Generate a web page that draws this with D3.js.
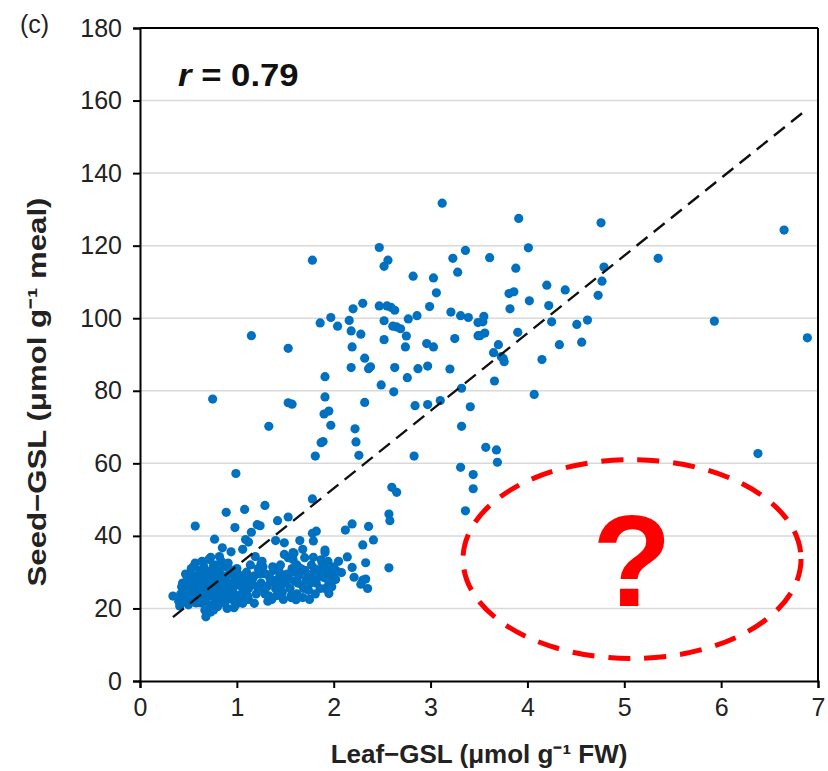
<!DOCTYPE html>
<html>
<head>
<meta charset="utf-8">
<script src="https://cdn.jsdelivr.net/npm/d3@7"></script>
<style>
  body { margin: 0; background: #fff; }
  svg text { font-family: "Liberation Sans", Arial, sans-serif; }
</style>
</head>
<body>
<svg id="chart" width="828" height="771"></svg>
<script>
// leaf vs seed GSL
var leafGSL = [
  3.12,2.47,1.78,2.56,2.52,3.36,3.23,3.28,2.82,3.03,3.06,2.30,2.20,2.47,2.55,2.59,2.63,2.99,3.21,3.31,
  3.39,3.49,1.97,2.16,1.86,2.04,2.52,2.77,2.86,2.61,2.65,2.69,2.18,2.28,2.75,1.15,2.52,3.25,3.49,1.53,
  2.19,2.74,2.96,3.03,2.32,3.91,4.76,6.65,4.01,3.61,5.35,3.88,4.79,4.77,4.20,4.39,3.81,3.86,4.73,4.02,
  4.22,3.82,3.55,3.54,4.25,4.51,4.62,5.93,6.89,3.51,3.56,3.90,3.70,4.33,4.56,3.65,3.73,4.15,3.75,3.76,
  6.38,2.63,2.87,2.97,2.76,3.20,2.49,2.62,3.66,3.32,4.07,2.84,2.97,3.10,3.41,3.32,3.57,3.68,3.69,2.83,
  3.31,3.44,3.44,2.60,2.65,3.36,2.57,2.18,2.36,2.38,1.91,0.75,1.53,1.57,1.91,2.32,1.90,1.95,1.97,1.33,
  2.22,1.87,1.89,2.23,1.81,2.26,0.99,1.78,2.58,2.12,2.19,2.36,2.30,2.41,2.14,2.19,2.33,2.57,1.98,2.03,
  2.08,1.98,1.99,2.21,2.30,2.33,2.28,2.35,0.89,1.08,1.29,0.57,0.98,1.21,1.24,1.42,1.53,1.15,1.78,1.82,
  0.77,1.09,1.12,1.40,1.49,1.65,1.79,0.85,1.06,1.91,0.82,1.68,1.59,1.91,1.79,1.87,1.95,1.91,0.34,0.68,
  0.41,1.18,1.32,1.56,1.61,0.97,1.06,0.76,0.73,0.94,1.49,1.58,1.19,1.25,1.37,
  0.45,0.48,0.50,0.52,0.55,0.55,0.58,0.60,0.60,0.62,0.63,0.65,0.66,0.68,0.70,0.70,0.72,0.73,0.75,0.76,
  0.78,0.80,0.80,0.82,0.83,0.85,0.86,0.88,0.88,0.90,0.92,0.93,0.95,0.96,0.98,1.00,1.00,1.02,1.04,1.05,
  1.07,1.08,1.10,1.12,1.13,0.42,0.44,0.47,0.53,0.57,0.64,0.71,0.50,0.67,0.78,0.90,0.58,0.74,0.86,0.96,
  0.40,0.62,0.69,0.84,0.91,
  0.43,0.46,0.49,0.51,0.54,0.56,0.59,0.61,0.64,0.66,0.67,0.69,0.71,0.74,0.77,0.79,0.81,0.84,0.87,0.89,
  0.92,0.94,0.97,0.99,1.01,1.03,1.06,1.09,1.11,0.63,0.73,0.85,0.99,0.55,0.80,
  1.15,1.18,1.20,1.22,1.25,1.28,1.30,1.33,1.35,1.38,1.40,1.42,1.45,1.47,1.50,1.52,1.55,1.57,1.60,1.62,
  1.64,1.67,1.70,1.72,1.74,1.77,1.79,1.82,1.84,1.86,1.88,1.90,1.93,1.95,2.00,2.05,1.26,1.36,1.48,1.58,
  1.68,1.75,1.81,1.12,1.14,1.44,1.62,1.98,1.70,1.53,
  1.16,1.21,1.24,1.27,1.31,1.34,1.39,1.41,1.46,1.49,1.54,1.56,1.59,1.63,1.66,1.69,1.73,1.76,1.80,1.83,
  1.87,1.91,1.94,1.97,2.02,1.29,1.43
];
var seedGSL = [
  131.7,119.5,116.0,116.0,114.3,118.7,116.5,112.7,111.6,111.1,107.0,104.1,102.6,103.4,103.4,103.0,102.2,103.2,101.7,100.7,
  100.2,98.8,100.2,99.4,98.7,97.8,99.3,99.8,100.7,97.8,97.6,97.1,96.5,95.6,95.1,95.2,94.1,94.4,95.2,91.7,
  92.1,92.1,93.0,92.1,89.0,127.5,126.3,124.3,119.4,116.7,116.5,113.8,114.1,110.2,109.1,107.8,106.8,107.3,106.3,104.8,
  103.5,102.6,100.5,99.0,99.0,98.3,99.5,99.2,94.6,95.2,95.9,96.1,92.7,92.7,93.4,90.5,89.4,88.6,88.9,88.0,
  62.7,86.4,86.1,86.8,83.6,86.0,81.6,79.7,82.7,80.7,79.0,75.9,76.2,77.3,75.6,70.2,64.4,63.7,60.3,62.0,
  58.9,56.9,53.0,53.4,52.0,46.9,46.0,86.4,86.1,86.6,83.9,77.7,76.7,76.3,78.3,76.8,73.6,74.4,70.5,70.2,
  69.5,65.7,66.0,65.9,62.0,62.2,57.2,50.2,44.2,41.6,43.3,42.6,37.5,38.9,34.2,31.3,32.6,31.2,30.6,30.3,
  29.9,27.8,28.7,28.6,27.8,28.1,26.7,25.5,46.5,47.3,48.4,42.7,42.3,43.1,42.8,44.2,45.2,41.0,40.7,41.3,
  39.1,39.0,38.3,38.7,38.1,38.7,38.6,36.7,36.3,36.1,34.3,36.3,35.2,35.4,34.1,33.4,24.1,25.5,23.4,17.7,
  20.7,21.4,22.0,23.0,22.4,20.2,21.4,19.6,34.1,35.6,34.9,35.4,34.3,32.4,31.5,
  22.5,25.0,27.5,24.0,26.0,29.0,21.5,23.5,27.0,30.5,25.5,28.5,22.0,24.5,26.5,30.0,21.0,28.0,23.5,32.0,
  25.5,27.5,20.5,30.0,23.0,26.0,28.5,22.0,31.5,24.5,27.0,29.5,22.5,25.5,28.0,23.5,31.0,26.5,29.0,24.0,
  27.5,22.5,30.0,25.5,28.0,24.0,27.0,29.5,31.0,32.5,33.0,33.5,21.0,19.5,22.0,20.0,26.5,27.0,24.0,30.5,
  22.0,28.0,23.0,33.0,32.5,
  26.0,23.0,28.0,25.5,22.5,27.5,24.5,29.5,26.5,31.5,24.0,28.5,25.0,30.5,24.0,29.0,25.0,28.0,26.5,29.0,
  23.5,26.5,24.0,27.0,29.5,22.0,25.5,28.5,23.5,21.5,19.0,21.5,21.0,31.5,32.0,
  26.5,29.0,24.0,31.0,27.0,25.0,29.5,23.5,27.5,30.5,25.5,28.0,32.0,24.5,27.0,29.5,25.5,31.0,27.5,24.0,
  29.0,26.5,30.5,28.0,25.0,32.0,29.0,27.0,30.5,25.5,32.5,28.5,30.0,27.0,31.5,33.0,33.0,22.5,22.5,33.5,
  23.0,22.5,24.0,22.5,32.0,30.0,32.0,26.0,34.0,34.0,
  28.0,26.0,29.5,31.5,26.0,28.5,27.0,23.5,26.5,29.0,28.0,23.5,30.0,27.0,31.0,25.5,29.5,27.0,31.0,28.5,
  29.5,31.5,33.0,29.0,28.0,24.0,25.5
];

// trend line end points
var fitLeaf = [0.34, 6.84];
var fitSeed = [17.6, 156.6];

var xTicks = [0, 1, 2, 3, 4, 5, 6, 7];
var yTicks = [0, 20, 40, 60, 80, 100, 120, 140, 160, 180];

var svg = d3.select("#chart");
var margin = {top: 28, right: 10, bottom: 90, left: 140};
var W = 828 - margin.left - margin.right;
var H = 771 - margin.top - margin.bottom;

var x = d3.scaleLinear().domain([0, 7]).range([0, W]);
var y = d3.scaleLinear().domain([0, 180]).range([H, 0]);

var g = svg.append("g").attr("transform", "translate(" + margin.left + "," + margin.top + ")");

// gridlines
g.selectAll(".grid").data(yTicks.slice(1, -1)).enter()
  .append("line")
  .attr("x1", 0).attr("x2", W)
  .attr("y1", d => y(d)).attr("y2", d => y(d))
  .attr("stroke", "#d9d9d9").attr("stroke-width", 1.5);

// axes
var xAxis = g.append("g").attr("transform", "translate(0," + H + ")")
  .call(d3.axisBottom(x).tickValues(xTicks).tickSize(7).tickPadding(10).tickFormat(d3.format("d")));
var yAxis = g.append("g")
  .call(d3.axisLeft(y).tickValues(yTicks).tickSize(7).tickPadding(11).tickFormat(d3.format("d")));

[xAxis, yAxis].forEach(function(a) {
  a.select(".domain").attr("stroke", "#000").attr("stroke-width", 2);
  a.selectAll(".tick line").attr("stroke", "#000").attr("stroke-width", 2);
  a.selectAll(".tick text").attr("fill", "#222").style("font-size", "25px")
    .style("font-family", "'Liberation Sans', Arial, sans-serif");
});

// frame top / right
g.append("line").attr("x1", 0).attr("x2", W).attr("y1", 0).attr("y2", 0)
  .attr("stroke", "#000").attr("stroke-width", 2);
g.append("line").attr("x1", W).attr("x2", W).attr("y1", 0).attr("y2", H)
  .attr("stroke", "#000").attr("stroke-width", 2);

// points
g.selectAll(".dot").data(leafGSL).enter()
  .append("circle")
  .attr("cx", d => x(d))
  .attr("cy", (d, i) => y(seedGSL[i]))
  .attr("r", 4.6)
  .attr("fill", "#0070c0");

// dashed trend line
g.append("line")
  .attr("x1", x(fitLeaf[0])).attr("y1", y(fitSeed[0]))
  .attr("x2", x(fitLeaf[1])).attr("y2", y(fitSeed[1]))
  .attr("stroke", "#111").attr("stroke-width", 2.4)
  .attr("stroke-dasharray", "14,8");

// r label
var rt = g.append("text").attr("x", 38).attr("y", 58)
  .style("font-size", "31px").style("font-weight", "bold").attr("fill", "#111")
  .attr("transform", "translate(38,58) scale(1.12,1) translate(-38,-58)");
rt.append("tspan").style("font-style", "italic").text("r");
rt.append("tspan").text(" = 0.79");

// red dashed ellipse + question mark
var ann = {cx: 5.08, cy: 33.6, rx: 1.745, ry: 27.4};
g.append("ellipse")
  .attr("cx", x(ann.cx)).attr("cy", y(ann.cy))
  .attr("rx", x(ann.rx) - x(0)).attr("ry", y(0) - y(ann.ry))
  .attr("fill", "none").attr("stroke", "#ff0000").attr("stroke-width", 5)
  .attr("stroke-dasharray", "22,14");
g.append("text")
  .attr("x", x(ann.cx)).attr("y", y(ann.cy) + 47)
  .attr("text-anchor", "middle")
  .style("font-size", "130px").style("font-weight", "bold")
  .attr("fill", "#ff0000").text("?");

// axis titles
svg.append("text")
  .attr("x", margin.left + W / 2).attr("y", 763)
  .attr("text-anchor", "middle")
  .style("font-size", "26px").style("font-weight", "bold").attr("fill", "#222")
  .text("Leaf\u2212GSL (\u03bcmol g\u207b\u00b9 FW)");
svg.append("text")
  .attr("transform", "translate(46," + 392 + ") rotate(-90) scale(1.2,1)")
  .attr("text-anchor", "middle")
  .style("font-size", "26px").style("font-weight", "bold").attr("fill", "#222")
  .text("Seed\u2212GSL (\u03bcmol g\u207b\u00b9 meal)");

svg.append("text").attr("x", 20).attr("y", 33)
  .style("font-size", "25px").attr("fill", "#222").text("(c)");
</script>
</body>
</html>
